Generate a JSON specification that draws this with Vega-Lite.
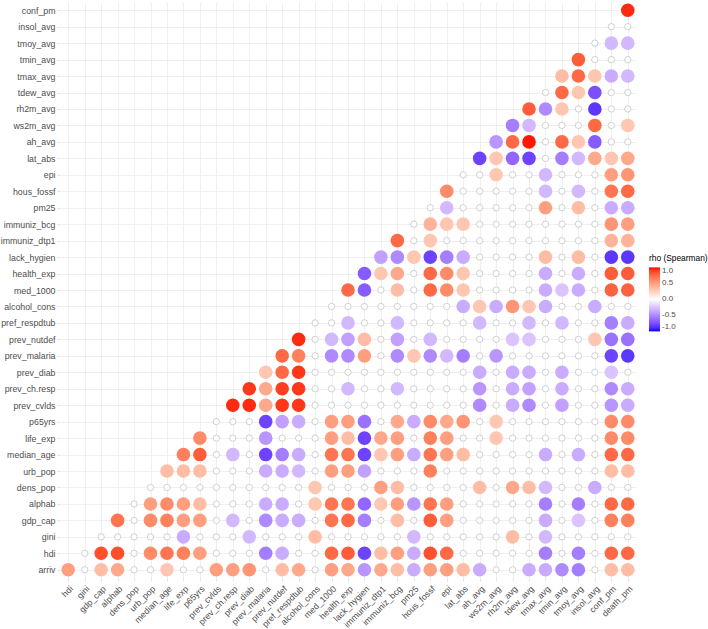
{
 "$schema": "https://vega.github.io/schema/vega-lite/v6.json",
 "width": 576, "height": 576,
 "padding": {"left": 0, "top": 2, "right": 0, "bottom": 2},
 "background": "white",
 "config": {
  "view": {"stroke": null},
  "axis": {"domain": false, "grid": true, "gridColor": "#EBEBEB", "gridWidth": 0.8, "tickColor": "#E3E3E3", "tickSize": 3, "labelFont": "Liberation Sans", "labelFontSize": 8.8, "labelColor": "#4D4D4D", "labelPadding": 2, "title": null}
 },
 "data": {"values": [
{"x":"death_pm","y":"conf_pm","r":0.95,"s":1},
{"x":"conf_pm","y":"insol_avg","r":0,"s":0},{"x":"death_pm","y":"insol_avg","r":0,"s":0},
{"x":"insol_avg","y":"tmoy_avg","r":0,"s":0},{"x":"conf_pm","y":"tmoy_avg","r":-0.3,"s":1},{"x":"death_pm","y":"tmoy_avg","r":-0.3,"s":1},
{"x":"tmoy_avg","y":"tmin_avg","r":0.8,"s":1},{"x":"insol_avg","y":"tmin_avg","r":0,"s":0},{"x":"conf_pm","y":"tmin_avg","r":0,"s":0},{"x":"death_pm","y":"tmin_avg","r":0,"s":0},
{"x":"tmin_avg","y":"tmax_avg","r":0.35,"s":1},{"x":"tmoy_avg","y":"tmax_avg","r":0.75,"s":1},{"x":"insol_avg","y":"tmax_avg","r":0.3,"s":1},{"x":"conf_pm","y":"tmax_avg","r":-0.35,"s":1},{"x":"death_pm","y":"tmax_avg","r":-0.3,"s":1},
{"x":"tmax_avg","y":"tdew_avg","r":0,"s":0},{"x":"tmin_avg","y":"tdew_avg","r":0.75,"s":1},{"x":"tmoy_avg","y":"tdew_avg","r":0.3,"s":1},{"x":"insol_avg","y":"tdew_avg","r":-0.75,"s":1},{"x":"conf_pm","y":"tdew_avg","r":0,"s":0},{"x":"death_pm","y":"tdew_avg","r":0,"s":0},
{"x":"tdew_avg","y":"rh2m_avg","r":0.8,"s":1},{"x":"tmax_avg","y":"rh2m_avg","r":-0.5,"s":1},{"x":"tmin_avg","y":"rh2m_avg","r":0.3,"s":1},{"x":"tmoy_avg","y":"rh2m_avg","r":0,"s":0},{"x":"insol_avg","y":"rh2m_avg","r":-0.85,"s":1},{"x":"conf_pm","y":"rh2m_avg","r":0,"s":0},{"x":"death_pm","y":"rh2m_avg","r":0,"s":0},
{"x":"rh2m_avg","y":"ws2m_avg","r":-0.55,"s":1},{"x":"tdew_avg","y":"ws2m_avg","r":-0.3,"s":1},{"x":"tmax_avg","y":"ws2m_avg","r":0,"s":0},{"x":"tmin_avg","y":"ws2m_avg","r":0,"s":0},{"x":"tmoy_avg","y":"ws2m_avg","r":0,"s":0},{"x":"insol_avg","y":"ws2m_avg","r":0.75,"s":1},{"x":"conf_pm","y":"ws2m_avg","r":0,"s":0},{"x":"death_pm","y":"ws2m_avg","r":0.3,"s":1},
{"x":"ws2m_avg","y":"ah_avg","r":-0.45,"s":1},{"x":"rh2m_avg","y":"ah_avg","r":0.75,"s":1},{"x":"tdew_avg","y":"ah_avg","r":0.98,"s":1},{"x":"tmax_avg","y":"ah_avg","r":0,"s":0},{"x":"tmin_avg","y":"ah_avg","r":0.75,"s":1},{"x":"tmoy_avg","y":"ah_avg","r":0.3,"s":1},{"x":"insol_avg","y":"ah_avg","r":-0.7,"s":1},{"x":"conf_pm","y":"ah_avg","r":0,"s":0},{"x":"death_pm","y":"ah_avg","r":0,"s":0},
{"x":"ah_avg","y":"lat_abs","r":-0.8,"s":1},{"x":"ws2m_avg","y":"lat_abs","r":0.3,"s":1},{"x":"rh2m_avg","y":"lat_abs","r":-0.65,"s":1},{"x":"tdew_avg","y":"lat_abs","r":-0.8,"s":1},{"x":"tmax_avg","y":"lat_abs","r":0,"s":0},{"x":"tmin_avg","y":"lat_abs","r":-0.55,"s":1},{"x":"tmoy_avg","y":"lat_abs","r":-0.3,"s":1},{"x":"insol_avg","y":"lat_abs","r":0.45,"s":1},{"x":"conf_pm","y":"lat_abs","r":0.3,"s":1},{"x":"death_pm","y":"lat_abs","r":0.45,"s":1},
{"x":"lat_abs","y":"epi","r":0,"s":0},{"x":"ah_avg","y":"epi","r":0,"s":0},{"x":"ws2m_avg","y":"epi","r":0.3,"s":1},{"x":"rh2m_avg","y":"epi","r":0,"s":0},{"x":"tdew_avg","y":"epi","r":0,"s":0},{"x":"tmax_avg","y":"epi","r":-0.3,"s":1},{"x":"tmin_avg","y":"epi","r":0,"s":0},{"x":"tmoy_avg","y":"epi","r":0,"s":0},{"x":"insol_avg","y":"epi","r":0,"s":0},{"x":"conf_pm","y":"epi","r":0.5,"s":1},{"x":"death_pm","y":"epi","r":0.55,"s":1},
{"x":"epi","y":"hous_fossf","r":0.6,"s":1},{"x":"lat_abs","y":"hous_fossf","r":0,"s":0},{"x":"ah_avg","y":"hous_fossf","r":0,"s":0},{"x":"ws2m_avg","y":"hous_fossf","r":0,"s":0},{"x":"rh2m_avg","y":"hous_fossf","r":0,"s":0},{"x":"tdew_avg","y":"hous_fossf","r":0,"s":0},{"x":"tmax_avg","y":"hous_fossf","r":-0.3,"s":1},{"x":"tmin_avg","y":"hous_fossf","r":0,"s":0},{"x":"tmoy_avg","y":"hous_fossf","r":-0.3,"s":1},{"x":"insol_avg","y":"hous_fossf","r":0,"s":0},{"x":"conf_pm","y":"hous_fossf","r":0.7,"s":1},{"x":"death_pm","y":"hous_fossf","r":0.75,"s":1},
{"x":"hous_fossf","y":"pm25","r":0,"s":0},{"x":"epi","y":"pm25","r":-0.3,"s":1},{"x":"lat_abs","y":"pm25","r":0,"s":0},{"x":"ah_avg","y":"pm25","r":0,"s":0},{"x":"ws2m_avg","y":"pm25","r":0,"s":0},{"x":"rh2m_avg","y":"pm25","r":0,"s":0},{"x":"tdew_avg","y":"pm25","r":0,"s":0},{"x":"tmax_avg","y":"pm25","r":0.5,"s":1},{"x":"tmin_avg","y":"pm25","r":0,"s":0},{"x":"tmoy_avg","y":"pm25","r":0.35,"s":1},{"x":"insol_avg","y":"pm25","r":0,"s":0},{"x":"conf_pm","y":"pm25","r":-0.35,"s":1},{"x":"death_pm","y":"pm25","r":-0.35,"s":1},
{"x":"pm25","y":"immuniz_bcg","r":0,"s":0},{"x":"hous_fossf","y":"immuniz_bcg","r":0.4,"s":1},{"x":"epi","y":"immuniz_bcg","r":0.3,"s":1},{"x":"lat_abs","y":"immuniz_bcg","r":0.3,"s":1},{"x":"ah_avg","y":"immuniz_bcg","r":0,"s":0},{"x":"ws2m_avg","y":"immuniz_bcg","r":0,"s":0},{"x":"rh2m_avg","y":"immuniz_bcg","r":0,"s":0},{"x":"tdew_avg","y":"immuniz_bcg","r":0,"s":0},{"x":"tmax_avg","y":"immuniz_bcg","r":0,"s":0},{"x":"tmin_avg","y":"immuniz_bcg","r":0,"s":0},{"x":"tmoy_avg","y":"immuniz_bcg","r":0,"s":0},{"x":"insol_avg","y":"immuniz_bcg","r":0,"s":0},{"x":"conf_pm","y":"immuniz_bcg","r":0.55,"s":1},{"x":"death_pm","y":"immuniz_bcg","r":0.5,"s":1},
{"x":"immuniz_bcg","y":"immuniz_dtp1","r":0.75,"s":1},{"x":"pm25","y":"immuniz_dtp1","r":0,"s":0},{"x":"hous_fossf","y":"immuniz_dtp1","r":0.3,"s":1},{"x":"epi","y":"immuniz_dtp1","r":0,"s":0},{"x":"lat_abs","y":"immuniz_dtp1","r":0,"s":0},{"x":"ah_avg","y":"immuniz_dtp1","r":0,"s":0},{"x":"ws2m_avg","y":"immuniz_dtp1","r":0,"s":0},{"x":"rh2m_avg","y":"immuniz_dtp1","r":0,"s":0},{"x":"tdew_avg","y":"immuniz_dtp1","r":0,"s":0},{"x":"tmax_avg","y":"immuniz_dtp1","r":0,"s":0},{"x":"tmin_avg","y":"immuniz_dtp1","r":0,"s":0},{"x":"tmoy_avg","y":"immuniz_dtp1","r":0,"s":0},{"x":"insol_avg","y":"immuniz_dtp1","r":0,"s":0},{"x":"conf_pm","y":"immuniz_dtp1","r":0.4,"s":1},{"x":"death_pm","y":"immuniz_dtp1","r":0.4,"s":1},
{"x":"immuniz_dtp1","y":"lack_hygien","r":-0.4,"s":1},{"x":"immuniz_bcg","y":"lack_hygien","r":-0.5,"s":1},{"x":"pm25","y":"lack_hygien","r":0.3,"s":1},{"x":"hous_fossf","y":"lack_hygien","r":-0.8,"s":1},{"x":"epi","y":"lack_hygien","r":-0.55,"s":1},{"x":"lat_abs","y":"lack_hygien","r":-0.35,"s":1},{"x":"ah_avg","y":"lack_hygien","r":0,"s":0},{"x":"ws2m_avg","y":"lack_hygien","r":0,"s":0},{"x":"rh2m_avg","y":"lack_hygien","r":0,"s":0},{"x":"tdew_avg","y":"lack_hygien","r":0,"s":0},{"x":"tmax_avg","y":"lack_hygien","r":0.35,"s":1},{"x":"tmin_avg","y":"lack_hygien","r":0,"s":0},{"x":"tmoy_avg","y":"lack_hygien","r":0.35,"s":1},{"x":"insol_avg","y":"lack_hygien","r":0,"s":0},{"x":"conf_pm","y":"lack_hygien","r":-0.85,"s":1},{"x":"death_pm","y":"lack_hygien","r":-0.85,"s":1},
{"x":"lack_hygien","y":"health_exp","r":-0.7,"s":1},{"x":"immuniz_dtp1","y":"health_exp","r":0.3,"s":1},{"x":"immuniz_bcg","y":"health_exp","r":0.45,"s":1},{"x":"pm25","y":"health_exp","r":0,"s":0},{"x":"hous_fossf","y":"health_exp","r":0.75,"s":1},{"x":"epi","y":"health_exp","r":0.6,"s":1},{"x":"lat_abs","y":"health_exp","r":0.3,"s":1},{"x":"ah_avg","y":"health_exp","r":0,"s":0},{"x":"ws2m_avg","y":"health_exp","r":0,"s":0},{"x":"rh2m_avg","y":"health_exp","r":0,"s":0},{"x":"tdew_avg","y":"health_exp","r":0,"s":0},{"x":"tmax_avg","y":"health_exp","r":-0.35,"s":1},{"x":"tmin_avg","y":"health_exp","r":0,"s":0},{"x":"tmoy_avg","y":"health_exp","r":-0.35,"s":1},{"x":"insol_avg","y":"health_exp","r":0,"s":0},{"x":"conf_pm","y":"health_exp","r":0.8,"s":1},{"x":"death_pm","y":"health_exp","r":0.8,"s":1},
{"x":"health_exp","y":"med_1000","r":0.75,"s":1},{"x":"lack_hygien","y":"med_1000","r":-0.7,"s":1},{"x":"immuniz_dtp1","y":"med_1000","r":0,"s":0},{"x":"immuniz_bcg","y":"med_1000","r":0.35,"s":1},{"x":"pm25","y":"med_1000","r":0,"s":0},{"x":"hous_fossf","y":"med_1000","r":0.75,"s":1},{"x":"epi","y":"med_1000","r":0.6,"s":1},{"x":"lat_abs","y":"med_1000","r":0.3,"s":1},{"x":"ah_avg","y":"med_1000","r":0,"s":0},{"x":"ws2m_avg","y":"med_1000","r":0,"s":0},{"x":"rh2m_avg","y":"med_1000","r":0,"s":0},{"x":"tdew_avg","y":"med_1000","r":0,"s":0},{"x":"tmax_avg","y":"med_1000","r":-0.35,"s":1},{"x":"tmin_avg","y":"med_1000","r":-0.25,"s":1},{"x":"tmoy_avg","y":"med_1000","r":-0.35,"s":1},{"x":"insol_avg","y":"med_1000","r":0,"s":0},{"x":"conf_pm","y":"med_1000","r":0.78,"s":1},{"x":"death_pm","y":"med_1000","r":0.78,"s":1},
{"x":"med_1000","y":"alcohol_cons","r":0,"s":0},{"x":"health_exp","y":"alcohol_cons","r":0,"s":0},{"x":"lack_hygien","y":"alcohol_cons","r":0,"s":0},{"x":"immuniz_dtp1","y":"alcohol_cons","r":0,"s":0},{"x":"immuniz_bcg","y":"alcohol_cons","r":0,"s":0},{"x":"pm25","y":"alcohol_cons","r":0,"s":0},{"x":"hous_fossf","y":"alcohol_cons","r":0,"s":0},{"x":"epi","y":"alcohol_cons","r":0,"s":0},{"x":"lat_abs","y":"alcohol_cons","r":-0.35,"s":1},{"x":"ah_avg","y":"alcohol_cons","r":0.3,"s":1},{"x":"ws2m_avg","y":"alcohol_cons","r":-0.35,"s":1},{"x":"rh2m_avg","y":"alcohol_cons","r":0.55,"s":1},{"x":"tdew_avg","y":"alcohol_cons","r":0.3,"s":1},{"x":"tmax_avg","y":"alcohol_cons","r":-0.35,"s":1},{"x":"tmin_avg","y":"alcohol_cons","r":0,"s":0},{"x":"tmoy_avg","y":"alcohol_cons","r":0,"s":0},{"x":"insol_avg","y":"alcohol_cons","r":-0.35,"s":1},{"x":"conf_pm","y":"alcohol_cons","r":0,"s":0},{"x":"death_pm","y":"alcohol_cons","r":0,"s":0},
{"x":"alcohol_cons","y":"pref_respdtub","r":0,"s":0},{"x":"med_1000","y":"pref_respdtub","r":0,"s":0},{"x":"health_exp","y":"pref_respdtub","r":-0.3,"s":1},{"x":"lack_hygien","y":"pref_respdtub","r":0,"s":0},{"x":"immuniz_dtp1","y":"pref_respdtub","r":0,"s":0},{"x":"immuniz_bcg","y":"pref_respdtub","r":-0.3,"s":1},{"x":"pm25","y":"pref_respdtub","r":0,"s":0},{"x":"hous_fossf","y":"pref_respdtub","r":0,"s":0},{"x":"epi","y":"pref_respdtub","r":0,"s":0},{"x":"lat_abs","y":"pref_respdtub","r":0,"s":0},{"x":"ah_avg","y":"pref_respdtub","r":-0.3,"s":1},{"x":"ws2m_avg","y":"pref_respdtub","r":0,"s":0},{"x":"rh2m_avg","y":"pref_respdtub","r":0,"s":0},{"x":"tdew_avg","y":"pref_respdtub","r":-0.3,"s":1},{"x":"tmax_avg","y":"pref_respdtub","r":0,"s":0},{"x":"tmin_avg","y":"pref_respdtub","r":-0.3,"s":1},{"x":"tmoy_avg","y":"pref_respdtub","r":0,"s":0},{"x":"insol_avg","y":"pref_respdtub","r":0,"s":0},{"x":"conf_pm","y":"pref_respdtub","r":-0.55,"s":1},{"x":"death_pm","y":"pref_respdtub","r":-0.35,"s":1},
{"x":"pref_respdtub","y":"prev_nutdef","r":0.95,"s":1},{"x":"alcohol_cons","y":"prev_nutdef","r":0,"s":0},{"x":"med_1000","y":"prev_nutdef","r":-0.3,"s":1},{"x":"health_exp","y":"prev_nutdef","r":-0.4,"s":1},{"x":"lack_hygien","y":"prev_nutdef","r":0.35,"s":1},{"x":"immuniz_dtp1","y":"prev_nutdef","r":0,"s":0},{"x":"immuniz_bcg","y":"prev_nutdef","r":-0.4,"s":1},{"x":"pm25","y":"prev_nutdef","r":0,"s":0},{"x":"hous_fossf","y":"prev_nutdef","r":-0.3,"s":1},{"x":"epi","y":"prev_nutdef","r":0,"s":0},{"x":"lat_abs","y":"prev_nutdef","r":0,"s":0},{"x":"ah_avg","y":"prev_nutdef","r":0,"s":0},{"x":"ws2m_avg","y":"prev_nutdef","r":0,"s":0},{"x":"rh2m_avg","y":"prev_nutdef","r":-0.25,"s":1},{"x":"tdew_avg","y":"prev_nutdef","r":-0.25,"s":1},{"x":"tmax_avg","y":"prev_nutdef","r":0,"s":0},{"x":"tmin_avg","y":"prev_nutdef","r":0,"s":0},{"x":"tmoy_avg","y":"prev_nutdef","r":0,"s":0},{"x":"insol_avg","y":"prev_nutdef","r":0.3,"s":1},{"x":"conf_pm","y":"prev_nutdef","r":-0.6,"s":1},{"x":"death_pm","y":"prev_nutdef","r":-0.6,"s":1},
{"x":"prev_nutdef","y":"prev_malaria","r":0.75,"s":1},{"x":"pref_respdtub","y":"prev_malaria","r":0.65,"s":1},{"x":"alcohol_cons","y":"prev_malaria","r":0,"s":0},{"x":"med_1000","y":"prev_malaria","r":-0.5,"s":1},{"x":"health_exp","y":"prev_malaria","r":-0.5,"s":1},{"x":"lack_hygien","y":"prev_malaria","r":0.5,"s":1},{"x":"immuniz_dtp1","y":"prev_malaria","r":0,"s":0},{"x":"immuniz_bcg","y":"prev_malaria","r":-0.5,"s":1},{"x":"pm25","y":"prev_malaria","r":0.3,"s":1},{"x":"hous_fossf","y":"prev_malaria","r":-0.5,"s":1},{"x":"epi","y":"prev_malaria","r":-0.3,"s":1},{"x":"lat_abs","y":"prev_malaria","r":-0.55,"s":1},{"x":"ah_avg","y":"prev_malaria","r":0,"s":0},{"x":"ws2m_avg","y":"prev_malaria","r":-0.45,"s":1},{"x":"rh2m_avg","y":"prev_malaria","r":0,"s":0},{"x":"tdew_avg","y":"prev_malaria","r":0,"s":0},{"x":"tmax_avg","y":"prev_malaria","r":0,"s":0},{"x":"tmin_avg","y":"prev_malaria","r":0,"s":0},{"x":"tmoy_avg","y":"prev_malaria","r":0,"s":0},{"x":"insol_avg","y":"prev_malaria","r":0,"s":0},{"x":"conf_pm","y":"prev_malaria","r":-0.8,"s":1},{"x":"death_pm","y":"prev_malaria","r":-0.85,"s":1},
{"x":"prev_malaria","y":"prev_diab","r":0.3,"s":1},{"x":"prev_nutdef","y":"prev_diab","r":0.75,"s":1},{"x":"pref_respdtub","y":"prev_diab","r":0.92,"s":1},{"x":"alcohol_cons","y":"prev_diab","r":0,"s":0},{"x":"med_1000","y":"prev_diab","r":0,"s":0},{"x":"health_exp","y":"prev_diab","r":0,"s":0},{"x":"lack_hygien","y":"prev_diab","r":0,"s":0},{"x":"immuniz_dtp1","y":"prev_diab","r":0,"s":0},{"x":"immuniz_bcg","y":"prev_diab","r":0,"s":0},{"x":"pm25","y":"prev_diab","r":0,"s":0},{"x":"hous_fossf","y":"prev_diab","r":0,"s":0},{"x":"epi","y":"prev_diab","r":0,"s":0},{"x":"lat_abs","y":"prev_diab","r":0,"s":0},{"x":"ah_avg","y":"prev_diab","r":-0.35,"s":1},{"x":"ws2m_avg","y":"prev_diab","r":0,"s":0},{"x":"rh2m_avg","y":"prev_diab","r":-0.35,"s":1},{"x":"tdew_avg","y":"prev_diab","r":-0.35,"s":1},{"x":"tmax_avg","y":"prev_diab","r":0,"s":0},{"x":"tmin_avg","y":"prev_diab","r":-0.35,"s":1},{"x":"tmoy_avg","y":"prev_diab","r":0,"s":0},{"x":"insol_avg","y":"prev_diab","r":0,"s":0},{"x":"conf_pm","y":"prev_diab","r":-0.25,"s":1},{"x":"death_pm","y":"prev_diab","r":0,"s":0},
{"x":"prev_diab","y":"prev_ch.resp","r":0.92,"s":1},{"x":"prev_malaria","y":"prev_ch.resp","r":0.45,"s":1},{"x":"prev_nutdef","y":"prev_ch.resp","r":0.9,"s":1},{"x":"pref_respdtub","y":"prev_ch.resp","r":0.92,"s":1},{"x":"alcohol_cons","y":"prev_ch.resp","r":0,"s":0},{"x":"med_1000","y":"prev_ch.resp","r":0,"s":0},{"x":"health_exp","y":"prev_ch.resp","r":-0.3,"s":1},{"x":"lack_hygien","y":"prev_ch.resp","r":0,"s":0},{"x":"immuniz_dtp1","y":"prev_ch.resp","r":0,"s":0},{"x":"immuniz_bcg","y":"prev_ch.resp","r":-0.3,"s":1},{"x":"pm25","y":"prev_ch.resp","r":0,"s":0},{"x":"hous_fossf","y":"prev_ch.resp","r":0,"s":0},{"x":"epi","y":"prev_ch.resp","r":0,"s":0},{"x":"lat_abs","y":"prev_ch.resp","r":0,"s":0},{"x":"ah_avg","y":"prev_ch.resp","r":-0.45,"s":1},{"x":"ws2m_avg","y":"prev_ch.resp","r":0,"s":0},{"x":"rh2m_avg","y":"prev_ch.resp","r":-0.35,"s":1},{"x":"tdew_avg","y":"prev_ch.resp","r":-0.4,"s":1},{"x":"tmax_avg","y":"prev_ch.resp","r":0,"s":0},{"x":"tmin_avg","y":"prev_ch.resp","r":-0.35,"s":1},{"x":"tmoy_avg","y":"prev_ch.resp","r":0,"s":0},{"x":"insol_avg","y":"prev_ch.resp","r":0,"s":0},{"x":"conf_pm","y":"prev_ch.resp","r":-0.5,"s":1},{"x":"death_pm","y":"prev_ch.resp","r":-0.35,"s":1},
{"x":"prev_ch.resp","y":"prev_cvlds","r":0.95,"s":1},{"x":"prev_diab","y":"prev_cvlds","r":0.95,"s":1},{"x":"prev_malaria","y":"prev_cvlds","r":0.45,"s":1},{"x":"prev_nutdef","y":"prev_cvlds","r":0.92,"s":1},{"x":"pref_respdtub","y":"prev_cvlds","r":0.92,"s":1},{"x":"alcohol_cons","y":"prev_cvlds","r":0,"s":0},{"x":"med_1000","y":"prev_cvlds","r":0,"s":0},{"x":"health_exp","y":"prev_cvlds","r":0,"s":0},{"x":"lack_hygien","y":"prev_cvlds","r":0,"s":0},{"x":"immuniz_dtp1","y":"prev_cvlds","r":0,"s":0},{"x":"immuniz_bcg","y":"prev_cvlds","r":0,"s":0},{"x":"pm25","y":"prev_cvlds","r":0,"s":0},{"x":"hous_fossf","y":"prev_cvlds","r":0,"s":0},{"x":"epi","y":"prev_cvlds","r":0,"s":0},{"x":"lat_abs","y":"prev_cvlds","r":0,"s":0},{"x":"ah_avg","y":"prev_cvlds","r":-0.5,"s":1},{"x":"ws2m_avg","y":"prev_cvlds","r":0,"s":0},{"x":"rh2m_avg","y":"prev_cvlds","r":-0.35,"s":1},{"x":"tdew_avg","y":"prev_cvlds","r":-0.5,"s":1},{"x":"tmax_avg","y":"prev_cvlds","r":0,"s":0},{"x":"tmin_avg","y":"prev_cvlds","r":-0.4,"s":1},{"x":"tmoy_avg","y":"prev_cvlds","r":0,"s":0},{"x":"insol_avg","y":"prev_cvlds","r":0,"s":0},{"x":"conf_pm","y":"prev_cvlds","r":-0.45,"s":1},{"x":"death_pm","y":"prev_cvlds","r":-0.35,"s":1},
{"x":"prev_cvlds","y":"p65yrs","r":0,"s":0},{"x":"prev_ch.resp","y":"p65yrs","r":0,"s":0},{"x":"prev_diab","y":"p65yrs","r":0,"s":0},{"x":"prev_malaria","y":"p65yrs","r":-0.8,"s":1},{"x":"prev_nutdef","y":"p65yrs","r":-0.4,"s":1},{"x":"pref_respdtub","y":"p65yrs","r":-0.35,"s":1},{"x":"alcohol_cons","y":"p65yrs","r":0,"s":0},{"x":"med_1000","y":"p65yrs","r":0.5,"s":1},{"x":"health_exp","y":"p65yrs","r":0.5,"s":1},{"x":"lack_hygien","y":"p65yrs","r":-0.6,"s":1},{"x":"immuniz_dtp1","y":"p65yrs","r":0,"s":0},{"x":"immuniz_bcg","y":"p65yrs","r":0.45,"s":1},{"x":"pm25","y":"p65yrs","r":-0.35,"s":1},{"x":"hous_fossf","y":"p65yrs","r":0.6,"s":1},{"x":"epi","y":"p65yrs","r":0.45,"s":1},{"x":"lat_abs","y":"p65yrs","r":0.55,"s":1},{"x":"ah_avg","y":"p65yrs","r":0,"s":0},{"x":"ws2m_avg","y":"p65yrs","r":0.3,"s":1},{"x":"rh2m_avg","y":"p65yrs","r":0,"s":0},{"x":"tdew_avg","y":"p65yrs","r":0,"s":0},{"x":"tmax_avg","y":"p65yrs","r":0,"s":0},{"x":"tmin_avg","y":"p65yrs","r":0,"s":0},{"x":"tmoy_avg","y":"p65yrs","r":0,"s":0},{"x":"insol_avg","y":"p65yrs","r":0,"s":0},{"x":"conf_pm","y":"p65yrs","r":0.6,"s":1},{"x":"death_pm","y":"p65yrs","r":0.6,"s":1},
{"x":"p65yrs","y":"life_exp","r":0.6,"s":1},{"x":"prev_cvlds","y":"life_exp","r":0,"s":0},{"x":"prev_ch.resp","y":"life_exp","r":0,"s":0},{"x":"prev_diab","y":"life_exp","r":0,"s":0},{"x":"prev_malaria","y":"life_exp","r":-0.45,"s":1},{"x":"prev_nutdef","y":"life_exp","r":0,"s":0},{"x":"pref_respdtub","y":"life_exp","r":0,"s":0},{"x":"alcohol_cons","y":"life_exp","r":0,"s":0},{"x":"med_1000","y":"life_exp","r":0.5,"s":1},{"x":"health_exp","y":"life_exp","r":0.35,"s":1},{"x":"lack_hygien","y":"life_exp","r":-0.8,"s":1},{"x":"immuniz_dtp1","y":"life_exp","r":0.45,"s":1},{"x":"immuniz_bcg","y":"life_exp","r":0.5,"s":1},{"x":"pm25","y":"life_exp","r":0,"s":0},{"x":"hous_fossf","y":"life_exp","r":0.65,"s":1},{"x":"epi","y":"life_exp","r":0.5,"s":1},{"x":"lat_abs","y":"life_exp","r":0,"s":0},{"x":"ah_avg","y":"life_exp","r":0,"s":0},{"x":"ws2m_avg","y":"life_exp","r":0.3,"s":1},{"x":"rh2m_avg","y":"life_exp","r":0,"s":0},{"x":"tdew_avg","y":"life_exp","r":0,"s":0},{"x":"tmax_avg","y":"life_exp","r":0,"s":0},{"x":"tmin_avg","y":"life_exp","r":0,"s":0},{"x":"tmoy_avg","y":"life_exp","r":0,"s":0},{"x":"insol_avg","y":"life_exp","r":0,"s":0},{"x":"conf_pm","y":"life_exp","r":0.6,"s":1},{"x":"death_pm","y":"life_exp","r":0.6,"s":1},
{"x":"life_exp","y":"median_age","r":0.65,"s":1},{"x":"p65yrs","y":"median_age","r":0.8,"s":1},{"x":"prev_cvlds","y":"median_age","r":0,"s":0},{"x":"prev_ch.resp","y":"median_age","r":-0.3,"s":1},{"x":"prev_diab","y":"median_age","r":0,"s":0},{"x":"prev_malaria","y":"median_age","r":-0.8,"s":1},{"x":"prev_nutdef","y":"median_age","r":-0.55,"s":1},{"x":"pref_respdtub","y":"median_age","r":-0.35,"s":1},{"x":"alcohol_cons","y":"median_age","r":0,"s":0},{"x":"med_1000","y":"median_age","r":0.7,"s":1},{"x":"health_exp","y":"median_age","r":0.7,"s":1},{"x":"lack_hygien","y":"median_age","r":-0.8,"s":1},{"x":"immuniz_dtp1","y":"median_age","r":0.3,"s":1},{"x":"immuniz_bcg","y":"median_age","r":0.5,"s":1},{"x":"pm25","y":"median_age","r":-0.35,"s":1},{"x":"hous_fossf","y":"median_age","r":0.7,"s":1},{"x":"epi","y":"median_age","r":0.5,"s":1},{"x":"lat_abs","y":"median_age","r":0.35,"s":1},{"x":"ah_avg","y":"median_age","r":0,"s":0},{"x":"ws2m_avg","y":"median_age","r":0,"s":0},{"x":"rh2m_avg","y":"median_age","r":0,"s":0},{"x":"tdew_avg","y":"median_age","r":0,"s":0},{"x":"tmax_avg","y":"median_age","r":-0.35,"s":1},{"x":"tmin_avg","y":"median_age","r":0,"s":0},{"x":"tmoy_avg","y":"median_age","r":-0.35,"s":1},{"x":"insol_avg","y":"median_age","r":0,"s":0},{"x":"conf_pm","y":"median_age","r":0.75,"s":1},{"x":"death_pm","y":"median_age","r":0.75,"s":1},
{"x":"median_age","y":"urb_pop","r":0.35,"s":1},{"x":"life_exp","y":"urb_pop","r":0.35,"s":1},{"x":"p65yrs","y":"urb_pop","r":0.35,"s":1},{"x":"prev_cvlds","y":"urb_pop","r":0,"s":0},{"x":"prev_ch.resp","y":"urb_pop","r":0,"s":0},{"x":"prev_diab","y":"urb_pop","r":0,"s":0},{"x":"prev_malaria","y":"urb_pop","r":-0.35,"s":1},{"x":"prev_nutdef","y":"urb_pop","r":-0.35,"s":1},{"x":"pref_respdtub","y":"urb_pop","r":-0.3,"s":1},{"x":"alcohol_cons","y":"urb_pop","r":0,"s":0},{"x":"med_1000","y":"urb_pop","r":0.5,"s":1},{"x":"health_exp","y":"urb_pop","r":0.5,"s":1},{"x":"lack_hygien","y":"urb_pop","r":-0.4,"s":1},{"x":"immuniz_dtp1","y":"urb_pop","r":0,"s":0},{"x":"immuniz_bcg","y":"urb_pop","r":0,"s":0},{"x":"pm25","y":"urb_pop","r":0,"s":0},{"x":"hous_fossf","y":"urb_pop","r":0.65,"s":1},{"x":"epi","y":"urb_pop","r":0,"s":0},{"x":"lat_abs","y":"urb_pop","r":0,"s":0},{"x":"ah_avg","y":"urb_pop","r":0,"s":0},{"x":"ws2m_avg","y":"urb_pop","r":0,"s":0},{"x":"rh2m_avg","y":"urb_pop","r":0,"s":0},{"x":"tdew_avg","y":"urb_pop","r":0,"s":0},{"x":"tmax_avg","y":"urb_pop","r":0,"s":0},{"x":"tmin_avg","y":"urb_pop","r":0,"s":0},{"x":"tmoy_avg","y":"urb_pop","r":0,"s":0},{"x":"insol_avg","y":"urb_pop","r":0,"s":0},{"x":"conf_pm","y":"urb_pop","r":0.35,"s":1},{"x":"death_pm","y":"urb_pop","r":0.35,"s":1},
{"x":"urb_pop","y":"dens_pop","r":0,"s":0},{"x":"median_age","y":"dens_pop","r":0,"s":0},{"x":"life_exp","y":"dens_pop","r":0,"s":0},{"x":"p65yrs","y":"dens_pop","r":0,"s":0},{"x":"prev_cvlds","y":"dens_pop","r":0,"s":0},{"x":"prev_ch.resp","y":"dens_pop","r":0,"s":0},{"x":"prev_diab","y":"dens_pop","r":0,"s":0},{"x":"prev_malaria","y":"dens_pop","r":0,"s":0},{"x":"prev_nutdef","y":"dens_pop","r":0,"s":0},{"x":"pref_respdtub","y":"dens_pop","r":0,"s":0},{"x":"alcohol_cons","y":"dens_pop","r":0.3,"s":1},{"x":"med_1000","y":"dens_pop","r":0,"s":0},{"x":"health_exp","y":"dens_pop","r":0,"s":0},{"x":"lack_hygien","y":"dens_pop","r":0,"s":0},{"x":"immuniz_dtp1","y":"dens_pop","r":0.5,"s":1},{"x":"immuniz_bcg","y":"dens_pop","r":0.35,"s":1},{"x":"pm25","y":"dens_pop","r":0,"s":0},{"x":"hous_fossf","y":"dens_pop","r":0,"s":0},{"x":"epi","y":"dens_pop","r":0,"s":0},{"x":"lat_abs","y":"dens_pop","r":0,"s":0},{"x":"ah_avg","y":"dens_pop","r":0.35,"s":1},{"x":"ws2m_avg","y":"dens_pop","r":0,"s":0},{"x":"rh2m_avg","y":"dens_pop","r":0.45,"s":1},{"x":"tdew_avg","y":"dens_pop","r":0.35,"s":1},{"x":"tmax_avg","y":"dens_pop","r":-0.3,"s":1},{"x":"tmin_avg","y":"dens_pop","r":0,"s":0},{"x":"tmoy_avg","y":"dens_pop","r":0,"s":0},{"x":"insol_avg","y":"dens_pop","r":-0.35,"s":1},{"x":"conf_pm","y":"dens_pop","r":0,"s":0},{"x":"death_pm","y":"dens_pop","r":0,"s":0},
{"x":"dens_pop","y":"alphab","r":0,"s":0},{"x":"urb_pop","y":"alphab","r":0.5,"s":1},{"x":"median_age","y":"alphab","r":0.6,"s":1},{"x":"life_exp","y":"alphab","r":0.5,"s":1},{"x":"p65yrs","y":"alphab","r":0.35,"s":1},{"x":"prev_cvlds","y":"alphab","r":0,"s":0},{"x":"prev_ch.resp","y":"alphab","r":0,"s":0},{"x":"prev_diab","y":"alphab","r":0,"s":0},{"x":"prev_malaria","y":"alphab","r":-0.35,"s":1},{"x":"prev_nutdef","y":"alphab","r":-0.35,"s":1},{"x":"pref_respdtub","y":"alphab","r":0,"s":0},{"x":"alcohol_cons","y":"alphab","r":0.3,"s":1},{"x":"med_1000","y":"alphab","r":0.7,"s":1},{"x":"health_exp","y":"alphab","r":0.7,"s":1},{"x":"lack_hygien","y":"alphab","r":-0.65,"s":1},{"x":"immuniz_dtp1","y":"alphab","r":0.3,"s":1},{"x":"immuniz_bcg","y":"alphab","r":0.5,"s":1},{"x":"pm25","y":"alphab","r":-0.45,"s":1},{"x":"hous_fossf","y":"alphab","r":0.7,"s":1},{"x":"epi","y":"alphab","r":0.5,"s":1},{"x":"lat_abs","y":"alphab","r":0,"s":0},{"x":"ah_avg","y":"alphab","r":0,"s":0},{"x":"ws2m_avg","y":"alphab","r":0,"s":0},{"x":"rh2m_avg","y":"alphab","r":0,"s":0},{"x":"tdew_avg","y":"alphab","r":0,"s":0},{"x":"tmax_avg","y":"alphab","r":-0.55,"s":1},{"x":"tmin_avg","y":"alphab","r":0,"s":0},{"x":"tmoy_avg","y":"alphab","r":-0.55,"s":1},{"x":"insol_avg","y":"alphab","r":0,"s":0},{"x":"conf_pm","y":"alphab","r":0.75,"s":1},{"x":"death_pm","y":"alphab","r":0.75,"s":1},
{"x":"alphab","y":"gdp_cap","r":0.7,"s":1},{"x":"dens_pop","y":"gdp_cap","r":0,"s":0},{"x":"urb_pop","y":"gdp_cap","r":0.6,"s":1},{"x":"median_age","y":"gdp_cap","r":0.65,"s":1},{"x":"life_exp","y":"gdp_cap","r":0.5,"s":1},{"x":"p65yrs","y":"gdp_cap","r":0.5,"s":1},{"x":"prev_cvlds","y":"gdp_cap","r":0,"s":0},{"x":"prev_ch.resp","y":"gdp_cap","r":-0.3,"s":1},{"x":"prev_diab","y":"gdp_cap","r":0,"s":0},{"x":"prev_malaria","y":"gdp_cap","r":-0.5,"s":1},{"x":"prev_nutdef","y":"gdp_cap","r":-0.35,"s":1},{"x":"pref_respdtub","y":"gdp_cap","r":-0.35,"s":1},{"x":"alcohol_cons","y":"gdp_cap","r":0,"s":0},{"x":"med_1000","y":"gdp_cap","r":0.7,"s":1},{"x":"health_exp","y":"gdp_cap","r":0.75,"s":1},{"x":"lack_hygien","y":"gdp_cap","r":-0.55,"s":1},{"x":"immuniz_dtp1","y":"gdp_cap","r":0,"s":0},{"x":"immuniz_bcg","y":"gdp_cap","r":0.35,"s":1},{"x":"pm25","y":"gdp_cap","r":0,"s":0},{"x":"hous_fossf","y":"gdp_cap","r":0.8,"s":1},{"x":"epi","y":"gdp_cap","r":0.5,"s":1},{"x":"lat_abs","y":"gdp_cap","r":0,"s":0},{"x":"ah_avg","y":"gdp_cap","r":0,"s":0},{"x":"ws2m_avg","y":"gdp_cap","r":0,"s":0},{"x":"rh2m_avg","y":"gdp_cap","r":0,"s":0},{"x":"tdew_avg","y":"gdp_cap","r":0,"s":0},{"x":"tmax_avg","y":"gdp_cap","r":-0.35,"s":1},{"x":"tmin_avg","y":"gdp_cap","r":0,"s":0},{"x":"tmoy_avg","y":"gdp_cap","r":-0.25,"s":1},{"x":"insol_avg","y":"gdp_cap","r":0,"s":0},{"x":"conf_pm","y":"gdp_cap","r":0.65,"s":1},{"x":"death_pm","y":"gdp_cap","r":0.65,"s":1},
{"x":"gdp_cap","y":"gini","r":0,"s":0},{"x":"alphab","y":"gini","r":0,"s":0},{"x":"dens_pop","y":"gini","r":0,"s":0},{"x":"urb_pop","y":"gini","r":0,"s":0},{"x":"median_age","y":"gini","r":0,"s":0},{"x":"life_exp","y":"gini","r":-0.35,"s":1},{"x":"p65yrs","y":"gini","r":0,"s":0},{"x":"prev_cvlds","y":"gini","r":0,"s":0},{"x":"prev_ch.resp","y":"gini","r":0,"s":0},{"x":"prev_diab","y":"gini","r":-0.3,"s":1},{"x":"prev_malaria","y":"gini","r":0,"s":0},{"x":"prev_nutdef","y":"gini","r":0,"s":0},{"x":"pref_respdtub","y":"gini","r":0,"s":0},{"x":"alcohol_cons","y":"gini","r":0.35,"s":1},{"x":"med_1000","y":"gini","r":0,"s":0},{"x":"health_exp","y":"gini","r":0,"s":0},{"x":"lack_hygien","y":"gini","r":0,"s":0},{"x":"immuniz_dtp1","y":"gini","r":0,"s":0},{"x":"immuniz_bcg","y":"gini","r":0,"s":0},{"x":"pm25","y":"gini","r":-0.3,"s":1},{"x":"hous_fossf","y":"gini","r":0,"s":0},{"x":"epi","y":"gini","r":0,"s":0},{"x":"lat_abs","y":"gini","r":0,"s":0},{"x":"ah_avg","y":"gini","r":0,"s":0},{"x":"ws2m_avg","y":"gini","r":0,"s":0},{"x":"rh2m_avg","y":"gini","r":0.35,"s":1},{"x":"tdew_avg","y":"gini","r":0,"s":0},{"x":"tmax_avg","y":"gini","r":-0.3,"s":1},{"x":"tmin_avg","y":"gini","r":0,"s":0},{"x":"tmoy_avg","y":"gini","r":0,"s":0},{"x":"insol_avg","y":"gini","r":0,"s":0},{"x":"conf_pm","y":"gini","r":0,"s":0},{"x":"death_pm","y":"gini","r":0,"s":0},
{"x":"gini","y":"hdi","r":0,"s":0},{"x":"gdp_cap","y":"hdi","r":0.85,"s":1},{"x":"alphab","y":"hdi","r":0.85,"s":1},{"x":"dens_pop","y":"hdi","r":0,"s":0},{"x":"urb_pop","y":"hdi","r":0.6,"s":1},{"x":"median_age","y":"hdi","r":0.7,"s":1},{"x":"life_exp","y":"hdi","r":0.65,"s":1},{"x":"p65yrs","y":"hdi","r":0.5,"s":1},{"x":"prev_cvlds","y":"hdi","r":0,"s":0},{"x":"prev_ch.resp","y":"hdi","r":0,"s":0},{"x":"prev_diab","y":"hdi","r":0,"s":0},{"x":"prev_malaria","y":"hdi","r":-0.55,"s":1},{"x":"prev_nutdef","y":"hdi","r":-0.35,"s":1},{"x":"pref_respdtub","y":"hdi","r":0,"s":0},{"x":"alcohol_cons","y":"hdi","r":0,"s":0},{"x":"med_1000","y":"hdi","r":0.75,"s":1},{"x":"health_exp","y":"hdi","r":0.8,"s":1},{"x":"lack_hygien","y":"hdi","r":-0.8,"s":1},{"x":"immuniz_dtp1","y":"hdi","r":0.35,"s":1},{"x":"immuniz_bcg","y":"hdi","r":0.5,"s":1},{"x":"pm25","y":"hdi","r":-0.35,"s":1},{"x":"hous_fossf","y":"hdi","r":0.85,"s":1},{"x":"epi","y":"hdi","r":0.75,"s":1},{"x":"lat_abs","y":"hdi","r":0,"s":0},{"x":"ah_avg","y":"hdi","r":0,"s":0},{"x":"ws2m_avg","y":"hdi","r":0,"s":0},{"x":"rh2m_avg","y":"hdi","r":0,"s":0},{"x":"tdew_avg","y":"hdi","r":0,"s":0},{"x":"tmax_avg","y":"hdi","r":-0.55,"s":1},{"x":"tmin_avg","y":"hdi","r":0,"s":0},{"x":"tmoy_avg","y":"hdi","r":-0.55,"s":1},{"x":"insol_avg","y":"hdi","r":0,"s":0},{"x":"conf_pm","y":"hdi","r":0.75,"s":1},{"x":"death_pm","y":"hdi","r":0.75,"s":1},
{"x":"hdi","y":"arriv","r":0.5,"s":1},{"x":"gini","y":"arriv","r":0,"s":0},{"x":"gdp_cap","y":"arriv","r":0.35,"s":1},{"x":"alphab","y":"arriv","r":0.45,"s":1},{"x":"dens_pop","y":"arriv","r":0,"s":0},{"x":"urb_pop","y":"arriv","r":0,"s":0},{"x":"median_age","y":"arriv","r":0.3,"s":1},{"x":"life_exp","y":"arriv","r":0,"s":0},{"x":"p65yrs","y":"arriv","r":0,"s":0},{"x":"prev_cvlds","y":"arriv","r":0.5,"s":1},{"x":"prev_ch.resp","y":"arriv","r":0.5,"s":1},{"x":"prev_diab","y":"arriv","r":0.55,"s":1},{"x":"prev_malaria","y":"arriv","r":0,"s":0},{"x":"prev_nutdef","y":"arriv","r":0.35,"s":1},{"x":"pref_respdtub","y":"arriv","r":0.45,"s":1},{"x":"alcohol_cons","y":"arriv","r":0,"s":0},{"x":"med_1000","y":"arriv","r":0.5,"s":1},{"x":"health_exp","y":"arriv","r":0.45,"s":1},{"x":"lack_hygien","y":"arriv","r":-0.45,"s":1},{"x":"immuniz_dtp1","y":"arriv","r":0.45,"s":1},{"x":"immuniz_bcg","y":"arriv","r":0.35,"s":1},{"x":"pm25","y":"arriv","r":-0.35,"s":1},{"x":"hous_fossf","y":"arriv","r":0.5,"s":1},{"x":"epi","y":"arriv","r":0.5,"s":1},{"x":"lat_abs","y":"arriv","r":0.35,"s":1},{"x":"ah_avg","y":"arriv","r":-0.35,"s":1},{"x":"ws2m_avg","y":"arriv","r":0,"s":0},{"x":"rh2m_avg","y":"arriv","r":0,"s":0},{"x":"tdew_avg","y":"arriv","r":-0.35,"s":1},{"x":"tmax_avg","y":"arriv","r":-0.35,"s":1},{"x":"tmin_avg","y":"arriv","r":-0.5,"s":1},{"x":"tmoy_avg","y":"arriv","r":-0.55,"s":1},{"x":"insol_avg","y":"arriv","r":0,"s":0},{"x":"conf_pm","y":"arriv","r":0.35,"s":1},{"x":"death_pm","y":"arriv","r":0.35,"s":1}
 ]},
 "encoding": {
  "x": {"field": "x", "type": "nominal", "scale": {"domain": ["hdi","gini","gdp_cap","alphab","dens_pop","urb_pop","median_age","life_exp","p65yrs","prev_cvlds","prev_ch.resp","prev_diab","prev_malaria","prev_nutdef","pref_respdtub","alcohol_cons","med_1000","health_exp","lack_hygien","immuniz_dtp1","immuniz_bcg","pm25","hous_fossf","epi","lat_abs","ah_avg","ws2m_avg","rh2m_avg","tdew_avg","tmax_avg","tmin_avg","tmoy_avg","insol_avg","conf_pm","death_pm"]}, "axis": {"labelAngle": -45, "labelAlign": "right", "labelBaseline": "top", "labelPadding": 3}},
  "y": {"field": "y", "type": "nominal", "scale": {"domain": ["conf_pm","insol_avg","tmoy_avg","tmin_avg","tmax_avg","tdew_avg","rh2m_avg","ws2m_avg","ah_avg","lat_abs","epi","hous_fossf","pm25","immuniz_bcg","immuniz_dtp1","lack_hygien","health_exp","med_1000","alcohol_cons","pref_respdtub","prev_nutdef","prev_malaria","prev_diab","prev_ch.resp","prev_cvlds","p65yrs","life_exp","median_age","urb_pop","dens_pop","alphab","gdp_cap","gini","hdi","arriv"]}}
 },
 "layer": [
  {"transform": [{"filter": "datum.s == 0"}], "mark": {"type": "circle", "size": 40, "fill": "white", "stroke": "#BDBDBD", "strokeWidth": 0.7, "opacity": 1}},
  {"transform": [{"filter": "datum.s == 1"}], "mark": {"type": "circle", "size": 185, "opacity": 1},
   "encoding": {"color": {"field": "r", "type": "quantitative",
     "scale": {"domain": [-1, 0, 1], "range": ["#0000FF", "#FFFFFF", "#FF0000"], "interpolate": "lab"},
     "legend": {"title": "rho (Spearman)", "orient": "none", "legendX": 589, "legendY": 252, "gradientLength": 64, "gradientThickness": 11, "values": [-1, -0.5, 0, 0.5, 1], "labelExpr": "datum.value == -1 ? '-1.0' : datum.value == -0.5 ? '-0.5' : format(datum.value, '.1f')", "labelFont": "Liberation Sans", "labelFontSize": 8, "labelColor": "#4D4D4D", "titleFont": "Liberation Sans", "titleFontSize": 8.4, "titleFontWeight": "normal", "titleColor": "#000000", "titlePadding": 5, "titleLimit": 120, "gradientStrokeWidth": 0}}}}
 ]
}
